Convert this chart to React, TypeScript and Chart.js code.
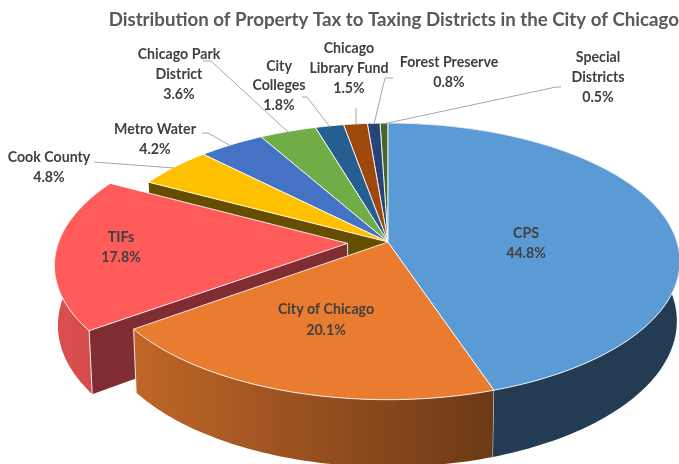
import React, { useEffect, useRef } from "react";
import { Chart, registerables } from "chart.js";

Chart.register(...registerables);

const categories = ["CPS", "City of Chicago", "TIFs", "Cook County", "Metro Water", "Chicago Park District", "City Colleges", "Chicago Library Fund", "Forest Preserve", "Special Districts"];
const shares = [44.8, 20.1, 17.8, 4.8, 4.2, 3.6, 1.8, 1.5, 0.8, 0.5];
const explode = [0, 0, 0.14, 0, 0, 0, 0, 0, 0, 0];
const colours = ["#5B9BD5", "#EA7C30", "#FF5B5B", "#FFC000", "#4472C4", "#70AD47", "#255E91", "#9E480E", "#264478", "#43682B"];
const nameLines = [["CPS"], ["City of Chicago"], ["TIFs"], ["Cook County"], ["Metro Water"], ["Chicago Park", "District"], ["City", "Colleges"], ["Chicago", "Library Fund"], ["Forest Preserve"], ["Special", "Districts"]];
const TITLE = "Distribution of Property Tax to Taxing Districts in the City of Chicago";

// layout of the labels: centre x, y of the first line, line height
const labelSpots: number[][] = [[526, 233, 20], [326, 309, 21], [121, 237, 20], [49, 157, 20], [155, 129, 20], [179, 54, 20], [279, 66, 19.5], [349, 48, 20], [449, 62, 20], [598, 57, 20]];
const leaders: number[][][] = [
  [], [], [],
  [[94, 162], [174, 168]],
  [[202, 133], [208, 133], [231, 146]],
  [[203, 61], [211, 61], [288, 132]],
  [[302, 97], [307, 97], [330, 127]],
  [[356, 108], [356, 124.5]],
  [[393, 78], [385, 78], [374, 124]],
  [[561, 87], [556, 87], [383, 124]],
];

// projection of the pie's unit disc on the page
const CX = 388, P = 0.14;
const TOP = { cy: 242, rx: 289, ry: 135.6 };
const BOTTOM = { cy: 300.6, rx: 286, ry: 143 };
type Plane = typeof TOP;

const wallShade: Record<number, number[]> = { 0: [0.39, 0.39], 1: [0.82, 0.46], 2: [0.86, 0.82] };
const DRAW_ORDER = [9, 8, 7, 6, 5, 4, 3, 2, 1, 0];

function project(pl: Plane, u: number, v: number): [number, number] {
  const w = 1 / (1 - P * v);
  return [CX + pl.rx * u * w, pl.cy + pl.ry * v * w];
}
function shade(hex: string, f: number) {
  const n = parseInt(hex.slice(1), 16);
  return `rgb(${Math.round(((n >> 16) & 255) * f)},${Math.round(((n >> 8) & 255) * f)},${Math.round((n & 255) * f)})`;
}
function arcPoints(pl: Plane, a0: number, a1: number, ox: number, oy: number) {
  const n = Math.max(4, Math.ceil((a1 - a0) / 0.02));
  const pts: [number, number][] = [];
  for (let i = 0; i <= n; i++) {
    const a = a0 + ((a1 - a0) * i) / n;
    pts.push(project(pl, Math.cos(a) + ox, Math.sin(a) + oy));
  }
  return pts;
}
function trace(ctx: CanvasRenderingContext2D, pts: [number, number][]) {
  ctx.beginPath();
  pts.forEach((p, i) => (i ? ctx.lineTo(p[0], p[1]) : ctx.moveTo(p[0], p[1])));
  ctx.closePath();
}
function seg(ctx: CanvasRenderingContext2D, a: [number, number], b: [number, number], col = "rgba(255,255,255,0.85)") {
  ctx.strokeStyle = col;
  ctx.lineWidth = 1;
  ctx.beginPath();
  ctx.moveTo(a[0], a[1]);
  ctx.lineTo(b[0], b[1]);
  ctx.stroke();
}

const pie3d = {
  id: "pie3d",
  beforeDatasetDraw(chart: any) {
    const ctx: CanvasRenderingContext2D = chart.ctx;
    const arcs = chart.getDatasetMeta(0).data;
    ctx.save();
    for (const i of DRAW_ORDER) {
      const el = arcs[i];
      const { startAngle: s, endAngle: e } = el.getProps(["startAngle", "endAngle"], true);
      const col: string = el.options.backgroundColor;
      const frac = (el.options.offset || 0) / 100;
      const mid = (s + e) / 2;
      const ox = Math.cos(mid) * frac, oy = Math.sin(mid) * frac;
      const topArc = arcPoints(TOP, s, e, ox, oy);
      const botArc = arcPoints(BOTTOM, s, e, ox, oy);
      const tipT = project(TOP, ox, oy), tipB = project(BOTTOM, ox, oy);

      // side wall running along the radius at the slice's start, when it faces the viewer
      if (i === 2 || i === 3) {
        ctx.fillStyle = i === 2 ? "#7F2D32" : "#654E00";
        trace(ctx, [tipT, topArc[0], botArc[0], tipB]);
        ctx.fill();
      }
      // outer wall
      const sh = wallShade[i];
      if (sh) {
        const xs = topArc.map((p) => p[0]);
        const g = ctx.createLinearGradient(Math.min(...xs), 0, Math.max(...xs), 0);
        g.addColorStop(0, shade(col, sh[0]));
        g.addColorStop(1, shade(col, sh[1]));
        ctx.fillStyle = g;
        trace(ctx, [...topArc, ...botArc.slice().reverse()]);
        ctx.fill();
        if (i !== 0) seg(ctx, topArc[0], botArc[0]);
        if (i === 1) seg(ctx, topArc[topArc.length - 1], botArc[botArc.length - 1]);
      }
      if (i === 2) seg(ctx, tipT, [tipT[0], tipT[1] + 12]);
      // top face
      ctx.fillStyle = col;
      ctx.strokeStyle = "rgba(255,255,255,0.85)";
      ctx.lineWidth = 1;
      ctx.lineJoin = "round";
      trace(ctx, [tipT, ...topArc]);
      ctx.fill();
      ctx.stroke();
    }
    ctx.restore();
    return false;
  },
  afterDatasetsDraw(chart: any) {
    const ctx: CanvasRenderingContext2D = chart.ctx;
    const values: number[] = chart.data.datasets[0].data;
    ctx.save();
    ctx.strokeStyle = "#A6A6A6";
    ctx.lineWidth = 1;
    leaders.forEach((line) => {
      if (!line.length) return;
      ctx.beginPath();
      line.forEach((p, k) => (k ? ctx.lineTo(p[0], p[1]) : ctx.moveTo(p[0], p[1])));
      ctx.stroke();
    });
    ctx.font = "bold 14.2px Lato, 'Open Sans', sans-serif";
    ctx.fillStyle = "#404040";
    ctx.textAlign = "center";
    ctx.textBaseline = "middle";
    nameLines.forEach((lines, i) => {
      const [x, y, lh] = labelSpots[i];
      [...lines, values[i].toFixed(1) + "%"].forEach((t, k) => ctx.fillText(t, x, y + k * lh));
    });
    ctx.restore();
  },
};

export default function App() {
  const ref = useRef<HTMLCanvasElement>(null);
  useEffect(() => {
    const chart = new Chart(ref.current!, {
      type: "pie",
      data: {
        labels: categories,
        datasets: [{ data: shares, backgroundColor: colours, borderWidth: 0, offset: explode.map((e) => e * 100) }],
      },
      options: {
        responsive: false,
        animation: false,
        layout: { padding: 0 },
        plugins: {
          legend: { display: false },
          tooltip: { enabled: false },
          title: {
            display: true,
            text: TITLE,
            align: "end",
            color: "#595959",
            font: { family: "Lato, 'Open Sans', sans-serif", size: 18.7, weight: "bold" },
            padding: { top: 9, bottom: 4 },
          },
        },
      },
      plugins: [pie3d],
    } as any);
    return () => chart.destroy();
  }, []);
  return (
    <div style={{ position: "absolute", left: 0, top: 0, width: 679, height: 464, background: "#fff" }}>
      <canvas ref={ref} width={679} height={464} style={{ display: "block" }} />
    </div>
  );
}
